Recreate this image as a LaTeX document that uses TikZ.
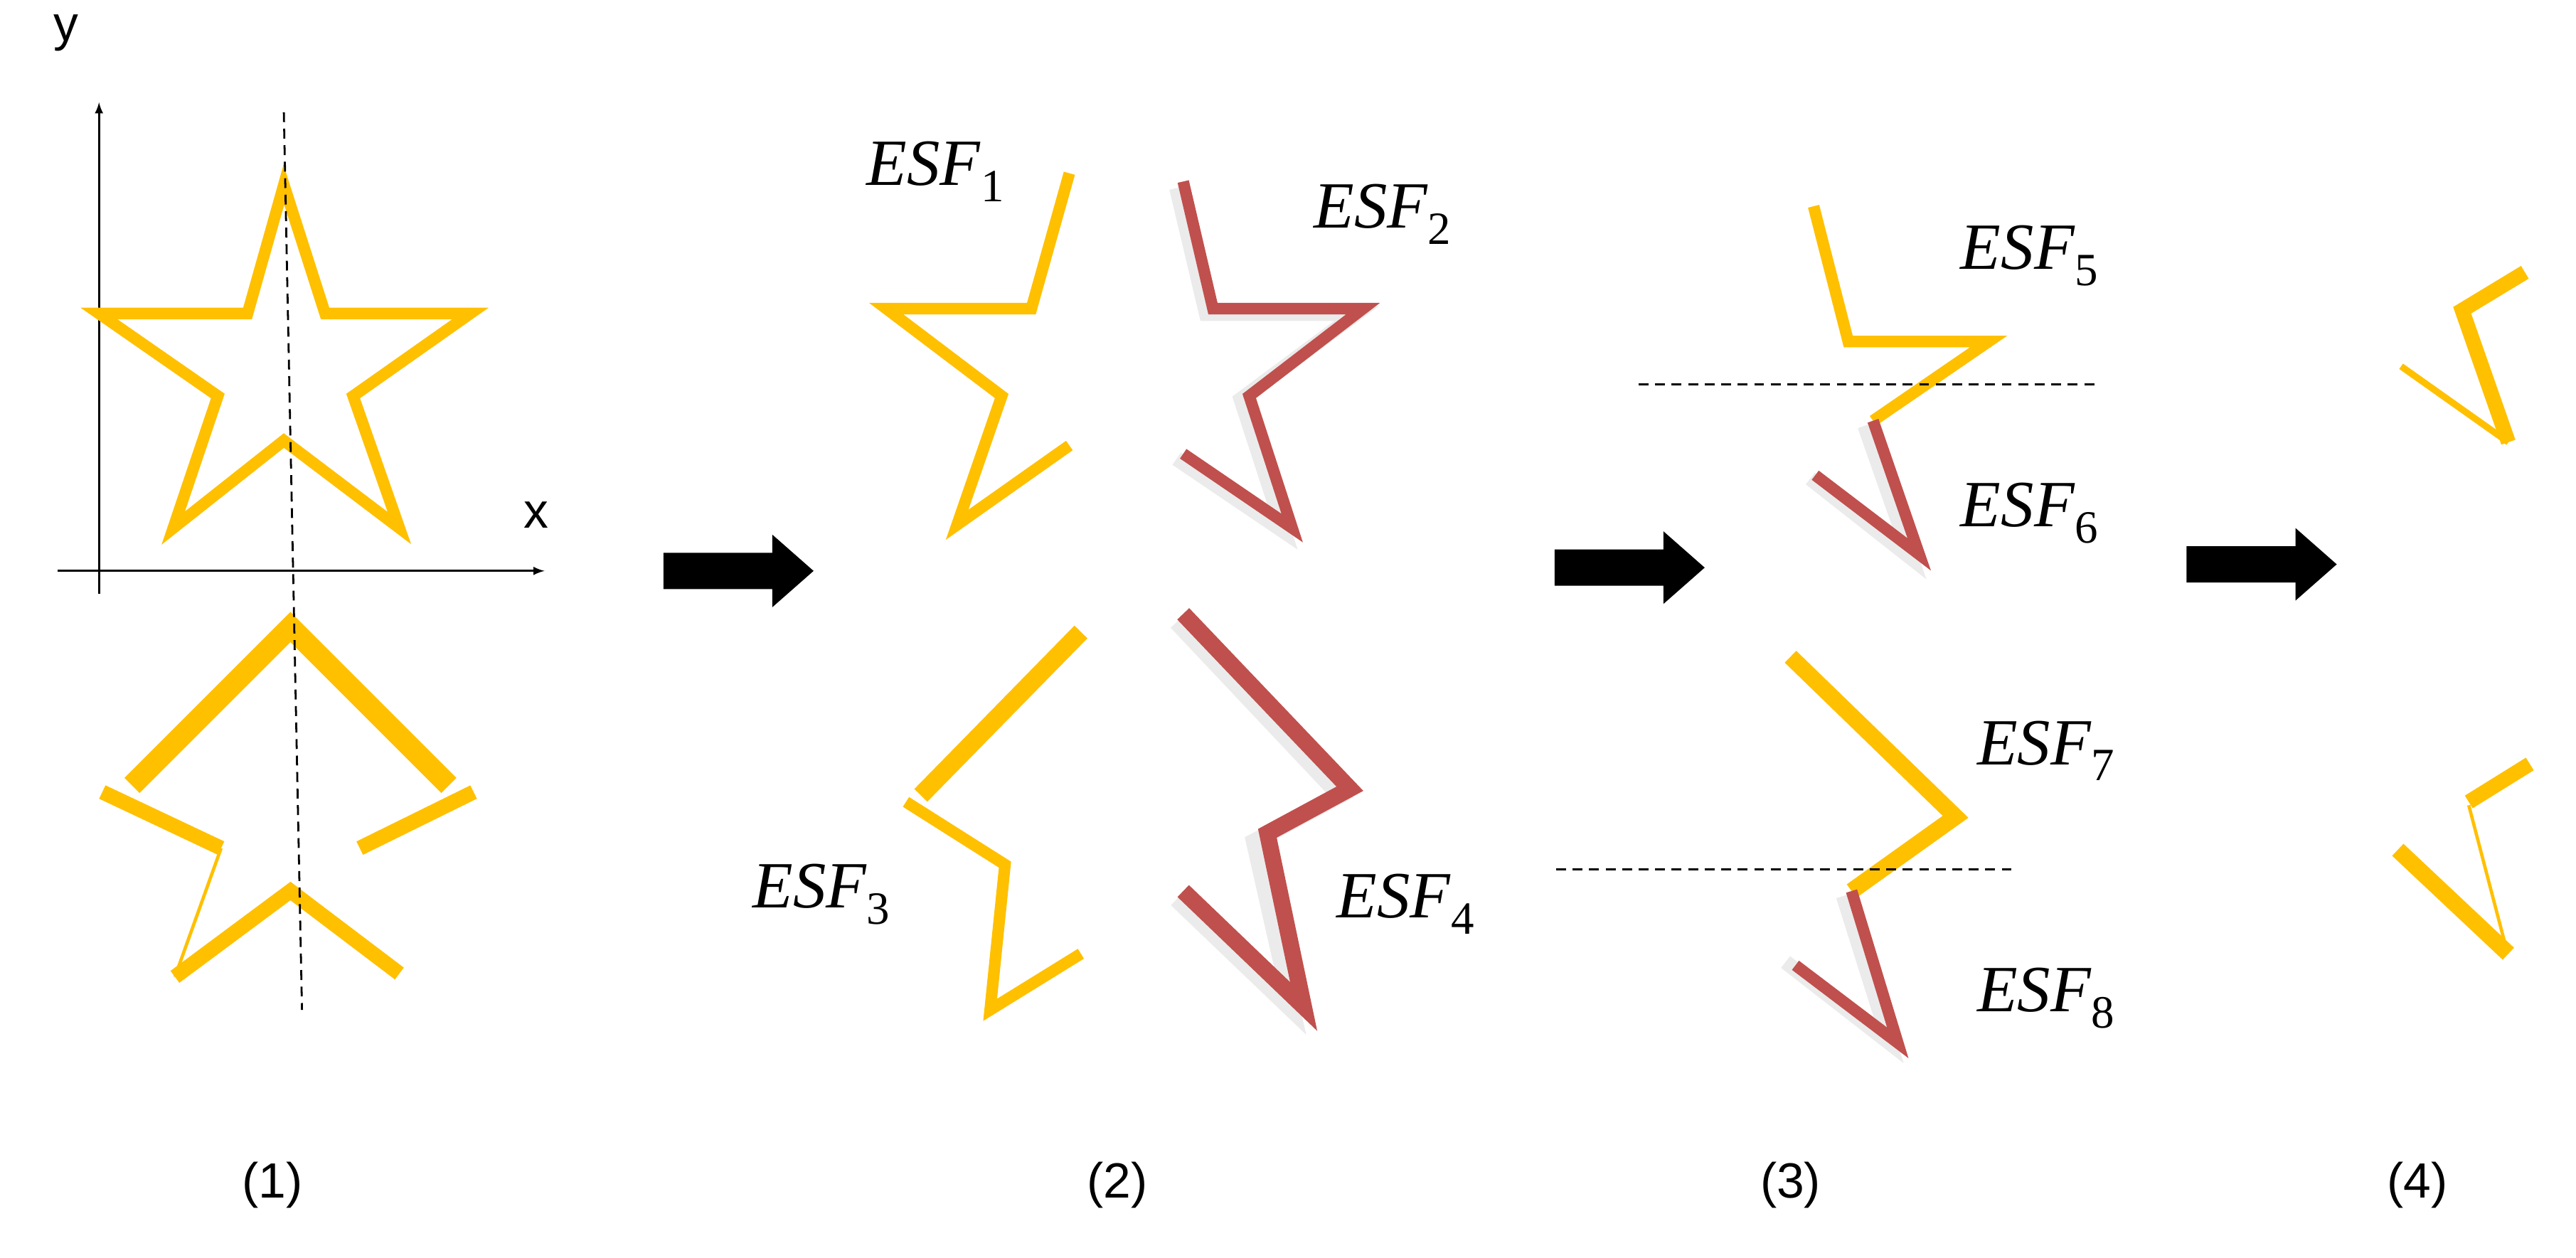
\documentclass[tikz,border=0pt]{standalone}
\usepackage{fontspec}
\setmainfont{Liberation Sans}
\newfontfamily\esffont{Liberation Serif}
\newcommand{\esfl}[1]{\textit{ESF}\textsubscript{#1}}
\begin{document}
\begin{tikzpicture}[x=1pt,y=-1pt,line join=miter,
  yel/.style={draw=Y,line width=#1},yel/.default=7,
  red/.style={draw=R,line width=#1},red/.default=7,
  shadow/.style={draw=black!8,line width=#1},
  dline/.style={line width=1.2,dash pattern=on 6 off 4},
  blk/.style={fill=black},
  esf/.style={font=\esffont\fontsize{40}{46}\selectfont},
  lab/.style={font=\fontsize{30}{36}\selectfont}]
\definecolor{Y}{HTML}{FFC000}
\definecolor{R}{HTML}{C0504D}
\useasboundingbox (0,0) rectangle (1561,762);
% panel 1 axes
\draw[-latex,line width=1.3] (60,360) -- (60,62);
\draw[-latex,line width=1.3] (35,346) -- (330,346);
\node[lab] (ly) at (40,20) {y};
\node[lab] (lx) at (325,312) {x};
% upper star
\draw[yel=7] (172,112) -- (197,190) -- (285,190) -- (214,240) -- (242,320) -- (172,267) -- (105,320) -- (132,240) -- (60,190) -- (150,190) -- cycle;
% lower star
\draw[yel=13] (80,476) -- (176,380) -- (272,476);
\draw[yel=9] (62,480) -- (134,514);
\draw[yel=2] (134,514) -- (106,592);
\draw[yel=9] (106,592) -- (176,540) -- (242,590);
\draw[yel=9] (287,480) -- (218,514);
\draw[dline] (172,68) -- (183,612);
% arrows
\fill[blk] (402,335) -- (468,335) -- (468,324) -- (493,346) -- (468,368) -- (468,357) -- (402,357) -- cycle;
\fill[blk] (942,333) -- (1008,333) -- (1008,322) -- (1033,344) -- (1008,366) -- (1008,355) -- (942,355) -- cycle;
\fill[blk] (1325,331) -- (1391,331) -- (1391,320) -- (1416,342) -- (1391,364) -- (1391,353) -- (1325,353) -- cycle;
% panel 2 upper halves
\draw[yel=7] (648,105) -- (625,187) -- (537,187) -- (607,240) -- (580,318) -- (648,270);
\draw[shadow=9] (713,114) -- (731,190) -- (822,190) -- (752,242) -- (778,322) -- (713,278);
\draw[red=7] (717,110) -- (735,187) -- (826,187) -- (757,240) -- (783,320) -- (717,275);
% panel 2 lower halves
\draw[yel=11] (655,383) -- (558,482);
\draw[yel=7] (549,486) -- (609,524) -- (600,612) -- (655,578);
\draw[shadow=10] (713,377) -- (812,482) -- (760,510) -- (783,612) -- (713,545);
\draw[red=10] (717,372) -- (818,478) -- (768,505) -- (790,610) -- (717,540);
% panel 3
\draw[yel=7] (1099,125) -- (1120,207) -- (1205,207) -- (1135,255);
\draw[shadow=9] (1130,258) -- (1158,338) -- (1097,290);
\draw[red=7] (1135,255) -- (1163,336) -- (1100,288);
\draw[dline] (993,233) -- (1272,233);
\draw[yel=10] (1085,398) -- (1185,495) -- (1122,540);
\draw[shadow=9] (1117,543) -- (1145,632) -- (1082,583);
\draw[red=7] (1122,540) -- (1150,632) -- (1088,585);
\draw[dline] (943,527) -- (1220,527);
% panel 4
\draw[yel=4] (1455,222) -- (1520,268);
\draw[yel=9] (1530,165) -- (1492,188) -- (1520,268);
\draw[yel=10] (1453,515) -- (1520,578);
\draw[yel=2] (1496,488) -- (1518,572);
\draw[yel=9] (1533,463) -- (1496,486);
% labels
\node[esf] (e1) at (567,104) {\esfl{1}};
\node[esf] (e2) at (838,130) {\esfl{2}};
\node[esf] (e3) at (498,542) {\esfl{3}};
\node[esf] (e4) at (852,548) {\esfl{4}};
\node[esf] (e5) at (1230,155) {\esfl{5}};
\node[esf] (e6) at (1230,311) {\esfl{6}};
\node[esf] (e7) at (1240,455) {\esfl{7}};
\node[esf] (e8) at (1240,605) {\esfl{8}};
\node[lab] (n1) at (165,718) {(1)};
\node[lab] (n2) at (677,718) {(2)};
\node[lab] (n3) at (1085,718) {(3)};
\node[lab] (n4) at (1465,718) {(4)};
\end{tikzpicture}
\end{document}
